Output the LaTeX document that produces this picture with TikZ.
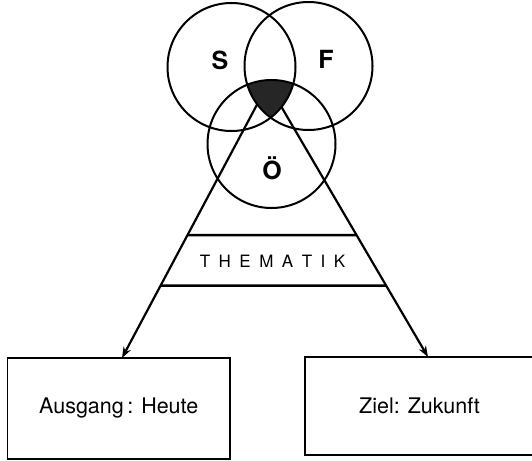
\documentclass[tikz,border=0pt]{standalone}
\usepackage{fontspec}
\setmainfont{TeX Gyre Heros}
\usetikzlibrary{arrows.meta,calc}
\begin{document}
\begin{tikzpicture}[x=1pt,y=-1pt,
  ring/.style={circle,draw,line width=2pt,minimum size=128pt,inner sep=0pt},
  letter/.style={font=\bfseries\fontsize{25}{25}\selectfont},
  box/.style={draw,line width=1.8pt,inner sep=0pt,font=\fontsize{21.5}{24}\selectfont},
  slant/.style={line width=2.2pt,-{Stealth[length=11pt,width=8pt]}},
  bar/.style={line width=2.5pt}]
\useasboundingbox (0,0) rectangle (532,460);
\clip (0,0) rectangle (532,460);
\coordinate (A) at (268,84);
\node[box,minimum width=222.5pt,minimum height=101pt] (ausgang) at (118.75,408.5) {Ausgang\,: Heute};
\node[box,minimum width=229pt,minimum height=98pt] (ziel) at (419.5,406) {Ziel: Zukunft};
\coordinate (L) at (122,358);
\coordinate (R) at (428,357);
\draw[slant] (A) -- (L);
\draw[slant] (A) -- (R);
\draw[bar] (intersection of A--L and {0,235}--{1,235}) -- (intersection of A--R and {0,235}--{1,235});
\draw[bar] (intersection of A--L and {0,285.5}--{1,285.5}) -- (intersection of A--R and {0,285.5}--{1,285.5});
\begin{scope}
\clip (231.5,67) circle (64pt);
\clip (308.5,66) circle (64pt);
\fill[black!85] (271.5,144) circle (64pt);
\end{scope}
\node[ring] (S) at (231.5,67) {};
\node[ring] (F) at (308.5,66) {};
\node[ring] (O) at (271.5,144) {};
\node[letter] (sl) at (220,60) {S};
\node[letter] (fl) at (326,59) {F};
\node[letter] (ol) at (272,168) {Ö};
\node[font=\fontsize{17}{17}\selectfont] (them) at (272.5,261) {T\kern8.5pt H\kern8.5pt E\kern8.5pt M\kern8.5pt A\kern8.5pt T\kern8.5pt I\kern8.5pt K};
\end{tikzpicture}
\end{document}
